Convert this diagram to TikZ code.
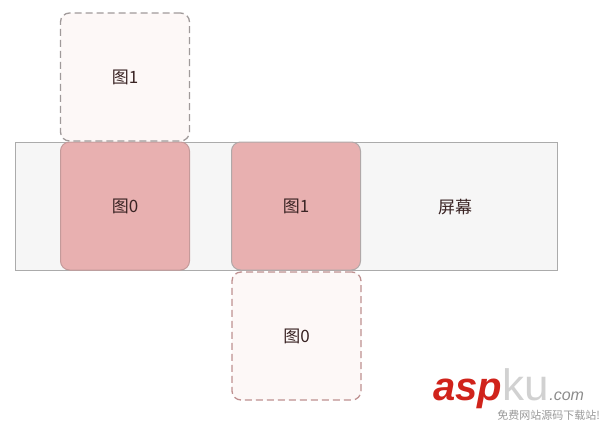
\documentclass[tikz,border=0pt]{standalone}
\usepackage{fontspec}
\setmainfont{Liberation Sans}
\newfontfamily\cjk{Noto Sans CJK SC}
\definecolor{screenfill}{HTML}{F6F6F6}
\definecolor{screenline}{HTML}{ABABAB}
\definecolor{imgfill}{HTML}{E8B0B0}
\definecolor{imgline}{HTML}{C49A9A}
\definecolor{ghostfill}{HTML}{FDF8F7}
\definecolor{ghostgray}{HTML}{A09A9A}
\definecolor{ghostrose}{HTML}{BE9090}
\definecolor{textcol}{HTML}{3A2424}
\definecolor{aspred}{HTML}{D0231B}
\begin{document}
\begin{tikzpicture}
        [x=1pt, y=-1pt,
        screen/.style={draw=screenline, fill=screenfill, line width=1pt, minimum width=542pt, minimum height=128pt, inner sep=0pt},
        img/.style={draw=imgline, fill=imgfill, line width=1pt, rounded corners=9pt, minimum width=129pt, minimum height=128pt, inner sep=0pt, font=\cjk\fontsize{17}{18}\selectfont, text=textcol},
        ghost/.style={img, fill=ghostfill, line width=1.3pt, dash pattern=on 7pt off 4pt},
        caption/.style={font=\cjk\fontsize{17}{18}\selectfont, text=textcol}]
        \useasboundingbox (0,0) rectangle (605,426);

        % the screen
        \node[screen] (screen) at (286,206) {};
        \node[caption] (screenlabel) at (455,207) {屏幕};

        % images on screen
        \node[img] (cur0) at (125,206) {图0};
        \node[img, draw=screenline!80!imgline] (cur1) at (296,206) {图1};

        % images off screen
        \node[ghost, draw=ghostgray] (next1) at (125,77) {图1};
        \node[ghost, draw=ghostrose] (next0) at (296.5,336) {图0};

        % watermark
        \node[anchor=base west, inner sep=0pt, text=aspred, font=\fontsize{40}{40}\selectfont\bfseries\itshape] (asp) at (433,400) {asp};
        \node[anchor=base west, inner sep=0pt, text=black!18, font=\fontsize{44}{44}\selectfont] (ku) at (asp.base east) {ku};
        \node[anchor=base west, inner sep=0pt, text=black!45, font=\fontsize{16}{16}\selectfont\itshape] (com) at (ku.base east) {.com};
        \node[anchor=base east, inner sep=0pt, text=black!40, font=\cjk\fontsize{11}{11}\selectfont] (slogan) at (600,419) {免费网站源码下载站!};
\end{tikzpicture}
\end{document}
